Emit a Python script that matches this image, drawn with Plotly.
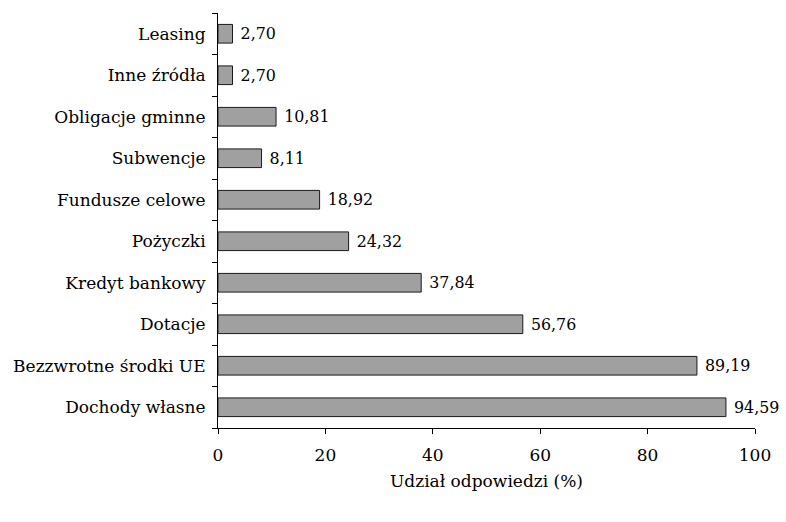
import plotly.graph_objects as go

# Funding sources (bottom to top) and share of responses, %
sources = [
    "Dochody własne",
    "Bezzwrotne środki UE",
    "Dotacje",
    "Kredyt bankowy",
    "Pożyczki",
    "Fundusze celowe",
    "Subwencje",
    "Obligacje gminne",
    "Inne źródła",
    "Leasing",
]
shares = [94.59, 89.19, 56.76, 37.84, 24.32, 18.92, 8.11, 10.81, 2.70, 2.70]
x_ticks = [0, 20, 40, 60, 80, 100]

font_family = "DejaVu Serif"

fig = go.Figure(
    go.Bar(
        x=shares,
        y=sources,
        orientation="h",
        width=0.45,
        marker=dict(color="#a0a0a0", line=dict(color="#1a1a1a", width=1)),
        texttemplate=" %{x:.2f}",
        textposition="outside",
        textfont=dict(family=font_family, size=17, color="black"),
        cliponaxis=False,
    )
)

fig.update_layout(
    width=786,
    height=522,
    margin=dict(l=218, r=31, t=13, b=94),
    plot_bgcolor="white",
    paper_bgcolor="white",
    separators=", ",
    showlegend=False,
    font=dict(family=font_family, size=17, color="black"),
)

fig.update_xaxes(
    range=[0, 100],
    tickvals=x_ticks,
    ticks="outside",
    ticklen=5,
    tickcolor="black",
    showline=True,
    linecolor="black",
    linewidth=1,
    showgrid=False,
    zeroline=False,
    automargin=False,
    ticklabelstandoff=7,
    tickfont=dict(family=font_family, size=17),
    title=dict(text="Udział odpowiedzi (%)", font=dict(family=font_family, size=17), standoff=10),
)

fig.update_yaxes(
    categoryorder="array",
    categoryarray=sources,
    ticks="outside",
    tickson="boundaries",
    ticklen=5,
    tickcolor="black",
    showline=True,
    linecolor="black",
    linewidth=1,
    showgrid=False,
    automargin=False,
    tickfont=dict(family=font_family, size=17),
    ticklabelstandoff=8,
)

fig.write_html("out.html")
